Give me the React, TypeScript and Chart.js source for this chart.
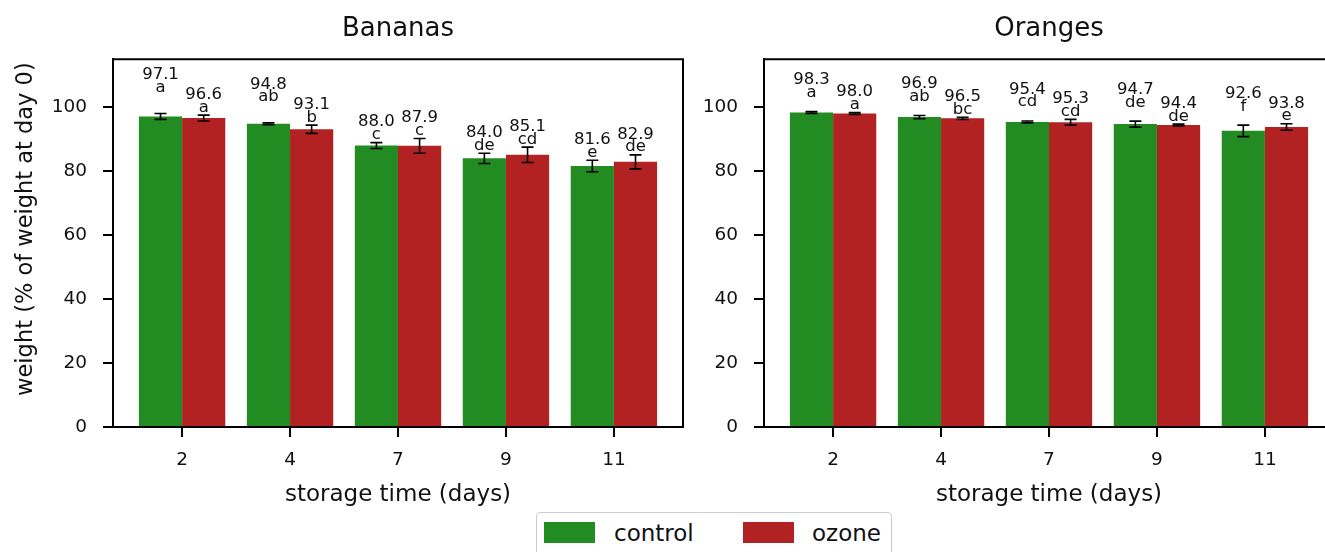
import React, { useEffect, useRef } from 'react';
import { Chart, registerables } from 'chart.js';

Chart.register(...registerables);

// ---------- data ----------
const days = ['2', '4', '7', '9', '11'];
const yTicks = [0, 20, 40, 60, 80, 100];

const bananaControl = [97.1, 94.8, 88.0, 84.0, 81.6];
const bananaOzone = [96.6, 93.1, 87.9, 85.1, 82.9];
const bananaControlErr = [0.9, 0.3, 0.9, 1.6, 1.8];
const bananaOzoneErr = [0.9, 1.3, 2.3, 2.4, 2.2];
const bananaControlLetters = ['a', 'ab', 'c', 'de', 'e'];
const bananaOzoneLetters = ['a', 'b', 'c', 'cd', 'de'];

const orangeControl = [98.3, 96.9, 95.4, 94.7, 92.6];
const orangeOzone = [98.0, 96.5, 95.3, 94.4, 93.8];
const orangeControlErr = [0.3, 0.5, 0.3, 0.95, 1.8];
const orangeOzoneErr = [0.3, 0.35, 0.9, 0.3, 1.0];
const orangeControlLetters = ['a', 'ab', 'cd', 'de', 'f'];
const orangeOzoneLetters = ['a', 'bc', 'cd', 'de', 'e'];

const seriesNames = ['control', 'ozone'];
const seriesColors = ['#228b22', '#b22222'];
const yTitle = 'weight (% of weight at day 0)';

const FONT = '"DejaVu Sans", "Noto Sans", sans-serif';
const INK = '#111';

type PanelProps = {
  title: string;
  control: number[];
  ozone: number[];
  controlErr: number[];
  ozoneErr: number[];
  controlLetters: string[];
  ozoneLetters: string[];
  showYTitle: boolean;
  left: number;
  width: number;
  yAxisWidth: number;
  rightPad: number;
  labelLift: number;
};

const H = 552;

function Panel(p: PanelProps) {
  const ref = useRef<HTMLCanvasElement | null>(null);
  useEffect(() => {
    const canvas = ref.current!;
    const errs = [p.controlErr, p.ozoneErr];
    const letters = [p.controlLetters, p.ozoneLetters];
    const values = [p.control, p.ozone];

    const frame = {
      id: 'frame',
      afterDraw(chart: any) {
        const { ctx, chartArea: a } = chart;
        ctx.save();
        ctx.strokeStyle = '#000';
        ctx.lineWidth = 2;
        ctx.beginPath();
        ctx.moveTo(a.left, a.top);
        ctx.lineTo(a.right, a.top);
        ctx.lineTo(a.right, a.bottom);
        ctx.stroke();
        if (p.showYTitle) {
          ctx.fillStyle = INK;
          ctx.font = `22.5px ${FONT}`;
          ctx.textAlign = 'center';
          ctx.textBaseline = 'middle';
          ctx.translate(26, (a.top + a.bottom) / 2 - 14);
          ctx.rotate(-Math.PI / 2);
          ctx.fillText(yTitle, 0, 0);
        }
        ctx.restore();
      },
    };

    const errorBars = {
      id: 'errorBars',
      afterDatasetsDraw(chart: any) {
        const { ctx } = chart;
        const ys = chart.scales.y;
        ctx.save();
        ctx.strokeStyle = '#000';
        ctx.lineWidth = 1.6;
        const tops: number[][] = [[], []];
        for (let d = 0; d < 2; d++) {
          const meta = chart.getDatasetMeta(d);
          meta.data.forEach((el: any, i: number) => {
            const v = values[d][i];
            const e = errs[d][i];
            const yt = ys.getPixelForValue(v + e);
            const yb = ys.getPixelForValue(v - e);
            tops[d][i] = yt;
            ctx.beginPath();
            ctx.moveTo(el.x, yt);
            ctx.lineTo(el.x, yb);
            ctx.moveTo(el.x - 6, yt);
            ctx.lineTo(el.x + 6, yt);
            ctx.moveTo(el.x - 6, yb);
            ctx.lineTo(el.x + 6, yb);
            ctx.stroke();
          });
        }
        // value + letter labels
        ctx.fillStyle = INK;
        ctx.font = `16.5px ${FONT}`;
        ctx.textAlign = 'center';
        ctx.textBaseline = 'alphabetic';
        for (let d = 0; d < 2; d++) {
          const meta = chart.getDatasetMeta(d);
          meta.data.forEach((el: any, i: number) => {
            let base = tops[d][i] - 3.5;
            if (d === 0) {
              const cTop = values[0][i] + errs[0][i];
              const oTop = values[1][i] + errs[1][i];
              if (oTop - cTop < 1) base -= p.labelLift;
            }
            ctx.fillText(letters[d][i], el.x, base);
            ctx.fillText(values[d][i].toFixed(1), el.x, base - 12.7);
          });
        }
        ctx.restore();
      },
    };

    const chart = new Chart(canvas, {
      type: 'bar',
      data: {
        datasets: [0, 1].map((d) => ({
          label: seriesNames[d],
          data: values[d].map((v, i) => ({ x: i, y: v })),
          backgroundColor: seriesColors[d],
          borderWidth: 0,
          categoryPercentage: 0.8,
          barPercentage: 1,
        })),
      },
      options: {
        responsive: false,
        animation: false,
        devicePixelRatio: 1,
        layout: { padding: { left: 0, right: p.rightPad, top: 0, bottom: 0 } },
        plugins: {
          legend: { display: false },
          tooltip: { enabled: false },
          title: {
            display: true,
            text: p.title,
            fullSize: false,
            color: INK,
            font: { family: FONT, size: 26, weight: 'normal', lineHeight: 1.2 },
            padding: { top: 14, bottom: 14 },
          },
        },
        scales: {
          x: {
            type: 'linear',
            min: -0.64,
            max: 4.64,
            offset: false,
            afterBuildTicks: (s: any) => {
              s.ticks = days.map((_, i) => ({ value: i }));
            },
            afterFit: (s: any) => {
              s.height = 125;
            },
            ticks: {
              color: INK,
              font: { family: FONT, size: 18.5 },
              padding: 12,
              maxRotation: 0,
              autoSkip: false,
              callback: (v: any) => days[v as number] ?? '',
            },
            grid: {
              offset: false,
              drawOnChartArea: false,
              drawTicks: true,
              tickLength: 10,
              color: '#000',
              lineWidth: 2,
            },
            border: { display: true, color: '#000', width: 2 },
            title: {
              display: true,
              text: 'storage time (days)',
              color: INK,
              font: { family: FONT, size: 23, lineHeight: 1.2 },
              padding: { top: 0, bottom: 43 },
            },
          },
          y: {
            type: 'linear',
            min: 0,
            max: 115,
            afterBuildTicks: (s: any) => {
              s.ticks = yTicks.map((v) => ({ value: v }));
            },
            afterFit: (s: any) => {
              s.width = p.yAxisWidth;
            },
            ticks: {
              color: INK,
              font: { family: FONT, size: 18.5 },
              padding: 16,
            },
            grid: {
              drawOnChartArea: false,
              drawTicks: true,
              tickLength: 10,
              color: '#000',
              lineWidth: 2,
            },
            border: { display: true, color: '#000', width: 2 },
          },
        },
      } as any,
      plugins: [frame, errorBars],
    });
    return () => chart.destroy();
  }, []);

  return (
    <canvas
      ref={ref}
      width={p.width}
      height={H}
      style={{ position: 'absolute', left: p.left, top: 0, width: p.width, height: H }}
    />
  );
}

function Legend() {
  const item = (i: number, left: number, textLeft: number) => (
    <React.Fragment key={i}>
      <div
        style={{
          position: 'absolute',
          left,
          top: 9,
          width: 51,
          height: 21,
          background: seriesColors[i],
        }}
      />
      <div
        style={{
          position: 'absolute',
          left: textLeft,
          top: 3,
          height: 34,
          lineHeight: '34px',
          fontFamily: FONT,
          fontSize: 23,
          color: INK,
          whiteSpace: 'nowrap',
        }}
      >
        {seriesNames[i]}
      </div>
    </React.Fragment>
  );
  return (
    <div
      style={{
        position: 'absolute',
        left: 536,
        top: 512,
        width: 356,
        height: 60,
        border: '1px solid #cccccc',
        borderRadius: 4,
        background: '#fff',
        boxSizing: 'border-box',
      }}
    >
      {item(0, 7, 77)}
      {item(1, 206, 275)}
    </div>
  );
}

export default function App() {
  useEffect(() => {
    document.body.style.margin = '0';
    document.body.style.background = '#fff';
  }, []);
  return (
    <div style={{ position: 'relative', width: 1325, height: H, overflow: 'hidden', background: '#fff' }}>
      <Panel
        title="Bananas"
        control={bananaControl}
        ozone={bananaOzone}
        controlErr={bananaControlErr}
        ozoneErr={bananaOzoneErr}
        controlLetters={bananaControlLetters}
        ozoneLetters={bananaOzoneLetters}
        showYTitle={true}
        left={0}
        width={700}
        yAxisWidth={113}
        rightPad={17}
        labelLift={18}
      />
      <Panel
        title="Oranges"
        control={orangeControl}
        ozone={orangeOzone}
        controlErr={orangeControlErr}
        ozoneErr={orangeOzoneErr}
        controlLetters={orangeControlLetters}
        ozoneLetters={orangeOzoneLetters}
        showYTitle={false}
        left={690}
        width={674}
        yAxisWidth={74}
        rightPad={30}
        labelLift={11}
      />
      <Legend />
    </div>
  );
}
